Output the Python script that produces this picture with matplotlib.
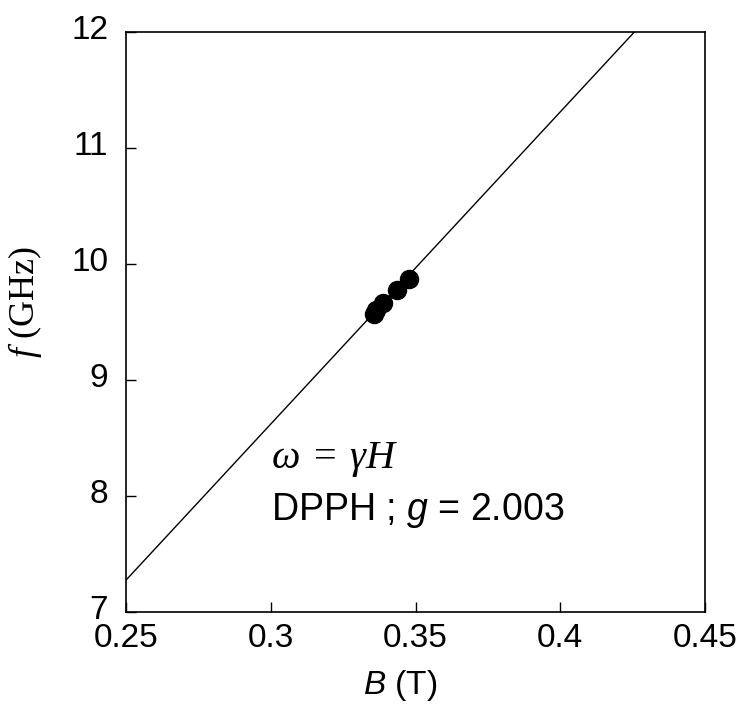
import numpy as np
import matplotlib
matplotlib.use("Agg")
import matplotlib.pyplot as plt
import matplotlib.transforms as mtransforms

# measured points (DPPH resonance)
B_pts = [0.3355, 0.3365, 0.3388, 0.3436, 0.3478]
f_pts = [9.57, 9.60, 9.66, 9.78, 9.87]

# fitted line end points
B_fit = [0.25, 0.45]
f_fit = [7.276, 12.656]

x_ticks = [0.25, 0.3, 0.35, 0.4, 0.45]
x_labels = ["0.25", "0.3", "0.35", "0.4", "0.45"]
y_ticks = [7, 8, 9, 10, 11, 12]

plt.rcParams['font.family'] = ['Liberation Sans', 'DejaVu Sans']
plt.rcParams['mathtext.fontset'] = 'custom'
plt.rcParams['mathtext.rm'] = 'Liberation Serif'
plt.rcParams['mathtext.it'] = 'Liberation Serif:italic'
plt.rcParams['mathtext.sf'] = 'Liberation Sans:italic'

fig = plt.figure(figsize=(7.42, 7.04), dpi=100)
ax = fig.add_axes([0.170, 0.1307, 0.780, 0.8238])

ax.plot(B_fit, f_fit, color='black', lw=1.0)
ax.plot(B_pts, f_pts, 'o', color='black', ms=13)

ax.set_xlim(0.25, 0.45)
ax.set_ylim(7, 12)
ax.set_xticks(x_ticks)
ax.set_xticklabels(x_labels)
ax.set_yticks(y_ticks)
ax.tick_params(direction='in', length=7, width=1, labelsize=24)
ax.tick_params(axis='y', pad=13)
ax.tick_params(axis='x', pad=8)
for s in ax.spines.values():
    s.set_linewidth(1.2)

# y tick labels sit a little above their ticks in the original
shift = mtransforms.ScaledTranslation(0, 5 / 100, fig.dpi_scale_trans)
for lab in ax.get_yticklabels():
    lab.set_transform(lab.get_transform() + shift)

ax.set_xlabel(r"$\mathsf{B}$ (T)", fontsize=24)
ax.xaxis.set_label_coords(0.473, -0.097)
ax.set_ylabel(r"$f$ (GHz)", fontsize=26, family='Liberation Serif')
ax.yaxis.set_label_coords(-0.142, 0.534)

ax.text(0.3, 8.24, r"$\omega\;=\;\gamma H$", fontsize=29, va='baseline')
ax.text(0.3, 7.79, r"DPPH ; $\mathsf{g}$ = 2.003", fontsize=27, va='baseline')

fig.savefig("out.png", dpi=100)
